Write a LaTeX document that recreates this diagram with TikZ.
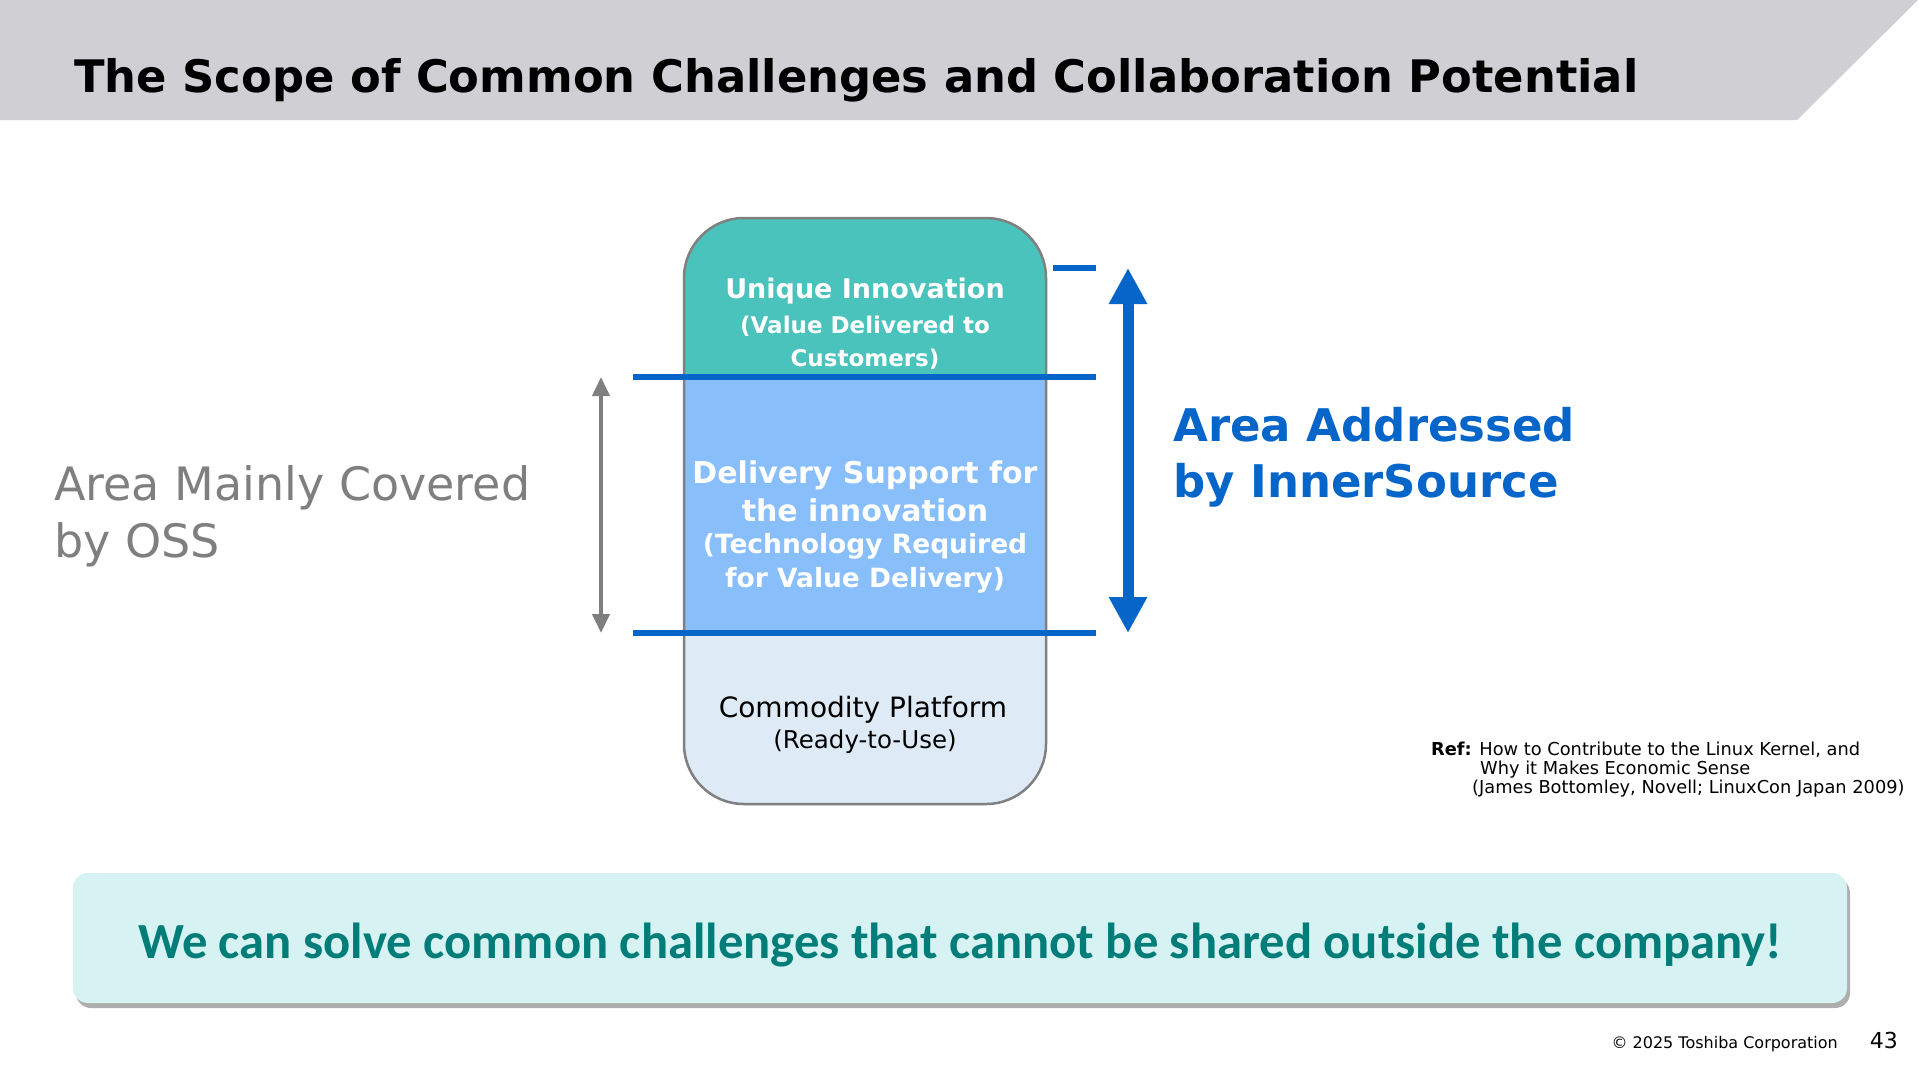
\documentclass[tikz,border=0pt]{standalone}
\usepackage{fontspec}
\setmainfont{DejaVu Sans}
\newfontfamily\bannerfont{Carlito}
\usetikzlibrary{arrows.meta, positioning, shadows}
\definecolor{HeaderGray}{HTML}{CFCFD4}
\definecolor{TealBand}{HTML}{4BC3BD}
\definecolor{SkyBand}{HTML}{88BEFA}
\definecolor{PaleBand}{HTML}{DEEBF7}
\definecolor{BoxEdge}{HTML}{808080}
\definecolor{InnerBlue}{HTML}{0565C8}
\definecolor{OssGray}{HTML}{7F7F7F}
\definecolor{BannerBg}{HTML}{D6F2F2}
\definecolor{BannerTeal}{HTML}{007D78}

\begin{document}
\begin{tikzpicture}[x=1pt, y=-1pt, >=Latex,
    lbl/.style={anchor=base, inner sep=0pt},
    bandline/.style={draw=InnerBlue, line width=6pt},
    band/.style={lbl, text=white, font=\bfseries\fontsize{#1}{#1}\selectfont}]
  \useasboundingbox (0,0) rectangle (1920,1080);

  % header
  \fill[HeaderGray] (0,0) -- (1918,0) -- (1797,120) -- (0,120) -- cycle;
  \node[lbl, anchor=base west, font=\bfseries\fontsize{44.8}{45}\selectfont] (title) at (74,92) {The Scope of Common Challenges and Collaboration Potential};

  % stacked box
  \begin{scope}
    \clip[rounded corners=60pt] (684,218) rectangle (1046,804);
    \fill[TealBand] (684,218) rectangle (1046,377);
    \fill[SkyBand] (684,377) rectangle (1046,633);
    \fill[PaleBand] (684,633) rectangle (1046,804);
  \end{scope}
  \draw[BoxEdge, line width=2.5pt, rounded corners=60pt] (684,218) rectangle (1046,804);

  \node[band=27] (u1) at (865,298) {Unique Innovation};
  \node[band=23] (u2) at (865,333) {(Value Delivered to};
  \node[band=23] (u3) at (865,366) {Customers)};
  \node[band=30] (d1) at (865,483) {Delivery Support for};
  \node[band=30] (d2) at (865,521) {the innovation};
  \node[band=26.5] (d3) at (865,553) {(Technology Required};
  \node[band=26.5] (d4) at (865,587) {for Value Delivery)};
  \node[lbl, font=\fontsize{28}{28}\selectfont] (c1) at (863,717) {Commodity Platform};
  \node[lbl, font=\fontsize{24.5}{25}\selectfont] (c2) at (865,748) {(Ready-to-Use)};

  % boundary lines
  \coordinate (capL) at (1053,268);
  \coordinate (capR) at (1096,268);
  \coordinate (topL) at (633,377);
  \coordinate (topR) at (1096,377);
  \coordinate (botL) at (633,633);
  \coordinate (botR) at (1096,633);
  \draw[bandline] (capL) -- (capR);
  \draw[bandline] (topL) -- (topR);
  \draw[bandline] (botL) -- (botR);

  % OSS range
  \coordinate (ossTop) at (601,377);
  \coordinate (ossBot) at (601,633);
  \draw[OssGray, line width=4pt, {Triangle[width=17pt,length=19pt]}-{Triangle[width=17pt,length=19pt]}] (ossTop) -- (ossBot);
  \node[lbl, anchor=base west, text=OssGray, font=\fontsize{46}{46}\selectfont] (oss1) at (54,500) {Area Mainly Covered};
  \node[lbl, anchor=base west, text=OssGray, font=\fontsize{46}{46}\selectfont] (oss2) at (54,557) {by OSS};

  % InnerSource range
  \coordinate (isTop) at (1128,268);
  \coordinate (isBot) at (1128,633);
  \draw[InnerBlue, line width=11pt, {Triangle[width=36pt,length=36pt]}-{Triangle[width=36pt,length=36pt]}] (isTop) -- (isBot);
  \node[lbl, anchor=base west, text=InnerBlue, font=\bfseries\fontsize{45}{45}\selectfont] (is1) at (1173,441) {Area Addressed};
  \node[lbl, anchor=base west, text=InnerBlue, font=\bfseries\fontsize{45}{45}\selectfont] (is2) at (1173,497) {by InnerSource};

  % reference
  \node[lbl, anchor=base west, font=\fontsize{17.8}{18}\selectfont] (ref1) at (1431,755) {\textbf{Ref:} How to Contribute to the Linux Kernel, and};
  \node[lbl, anchor=base west, font=\fontsize{17.8}{18}\selectfont] (ref2) at (1480,774) {Why it Makes Economic Sense};
  \node[lbl, anchor=base west, font=\fontsize{17.8}{18}\selectfont] (ref3) at (1472,793) {(James Bottomley, Novell; LinuxCon Japan 2009)};

  % message banner
  \node[fill=BannerBg, rounded corners=15pt, minimum width=1774pt, minimum height=130pt, inner sep=0pt,
        drop shadow={shadow xshift=3pt, shadow yshift=-5pt, opacity=0.45, fill=black!70}] (msgbox) at (960,938) {};
  \node[lbl, text=BannerTeal, font=\bannerfont\bfseries\fontsize{50.6}{51}\selectfont] (msg) at (960,958) {We can solve common challenges that cannot be shared outside the company!};

  % footer
  \node[lbl, anchor=base east, font=\fontsize{16}{16}\selectfont] (copy) at (1838,1048) {© 2025 Toshiba Corporation};
  \node[lbl, anchor=base east, font=\fontsize{22}{22}\selectfont] (page) at (1898,1048) {43};
\end{tikzpicture}
\end{document}
